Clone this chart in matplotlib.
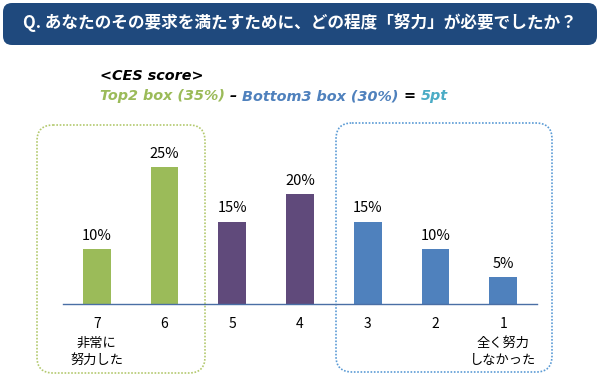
import matplotlib
matplotlib.use("Agg")
import matplotlib.pyplot as plt
from matplotlib.patches import FancyBboxPatch

plt.rcParams['font.family'] = ['Noto Sans CJK JP', 'DejaVu Sans']

# data
scores = ['7', '6', '5', '4', '3', '2', '1']
values = [10, 25, 15, 20, 15, 10, 5]
bar_colors = ['#9BBB59', '#9BBB59', '#604A7B', '#604A7B', '#4F81BD', '#4F81BD', '#4F81BD']
title = 'Q. あなたのその要求を満たすために、どの程度「努力」が必要でしたか？'
end_labels = {0: '非常に\n努力した', 6: '全く努力\nしなかった'}

fig = plt.figure(figsize=(6, 3.76), dpi=100)

# overlay in pixel coords for the decorations
bg = fig.add_axes([0, 0, 1, 1], zorder=0)
bg.set_xlim(0, 600)
bg.set_ylim(376, 0)
bg.axis('off')

bg.add_patch(FancyBboxPatch((3, 3), 594, 42, boxstyle='round,pad=0,rounding_size=9',
                            fc='#1F497D', ec='none'))
bg.text(300, 23, title, color='white', fontsize=12, fontweight='bold',
        ha='center', va='center')

bg.add_patch(FancyBboxPatch((37, 125), 168, 248, boxstyle='round,pad=0,rounding_size=16',
                            fc='none', ec='#B3C96E', lw=1.2, ls=(0, (1, 1))))
bg.add_patch(FancyBboxPatch((336, 123), 216, 249, boxstyle='round,pad=0,rounding_size=16',
                            fc='none', ec='#5B9BD5', lw=1.2, ls=(0, (1, 1))))

# CES score text
ces_font = dict(family='DejaVu Sans', fontweight='bold', style='italic', fontsize=10.4)
bg.text(100, 76, '<CES score>', color='black', va='center', **ces_font)
pieces = [('Top2 box (35%)', '#9BBB59'), (' – ', 'black'), ('Bottom3 box (30%)', '#4F81BD'),
          (' = ', 'black'), ('5pt', '#4BACC6')]
r = fig.canvas.get_renderer()
x = 100
for s, c in pieces:
    t = bg.text(x, 96, s, color=c, va='center', **ces_font)
    bb = t.get_window_extent(renderer=r)
    x += bb.width

# bar chart
ax = fig.add_axes([63 / 600, 72 / 376, 474 / 600, 165 / 376], zorder=1)
ax.patch.set_alpha(0)
xs = range(len(scores))
ax.bar(xs, values, width=0.41, color=bar_colors)
ax.set_xlim(-0.5, 6.5)
ax.set_ylim(0, 30)
for s in ['top', 'right', 'left']:
    ax.spines[s].set_visible(False)
ax.spines['bottom'].set_color('#4A6FA5')
ax.spines['bottom'].set_linewidth(1)
ax.set_yticks([])
ax.set_xticks(list(xs), scores)
ax.tick_params(axis='x', length=0, pad=9, labelsize=10)
for i, v in enumerate(values):
    ax.annotate(f'{v}%', (i, v), xytext=(0, 9), textcoords='offset pixels',
                ha='center', va='baseline', fontsize=10.5)
for i, s in end_labels.items():
    ax.annotate(s, (i, 0), xycoords=ax.get_xaxis_transform(), xytext=(0, -33),
                textcoords='offset pixels', ha='center', va='top', fontsize=9.5,
                linespacing=1.4)

fig.savefig('out.png', dpi=100)
